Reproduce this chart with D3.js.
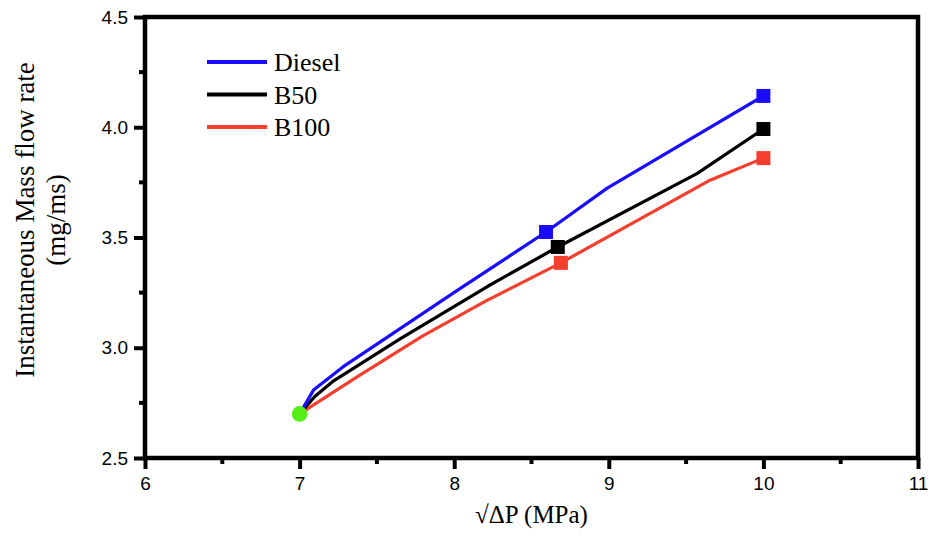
<!DOCTYPE html>
<html>
<head>
<meta charset="utf-8">
<script src="https://cdn.jsdelivr.net/npm/d3@7"></script>
<style>
body { margin: 0; background: #fff; }
svg { display: block; }
</style>
</head>
<body>
<div id="chart"></div>
<script>
// values
var seriesNames = ["Diesel", "B50", "B100"];
var seriesColors = ["#1a0dff", "#000000", "#f43e2e"];

var dieselX = [7, 7.09, 7.28, 8.02, 8.594, 8.99, 10];
var dieselY = [2.70, 2.808, 2.913, 3.26, 3.525, 3.724, 4.142];

var b50X = [7, 7.1, 7.22, 7.65, 8.22, 8.67, 9.57, 10];
var b50Y = [2.70, 2.78, 2.85, 3.04, 3.28, 3.457, 3.79, 3.992];

var b100X = [7, 7.4, 7.8, 8.2, 8.69, 9.655, 10];
var b100Y = [2.70, 2.88, 3.055, 3.21, 3.385, 3.76, 3.86];

// marked points (squares) per series
var markIndex = [[4, 6], [5, 7], [4, 6]];
var startPoint = [7, 2.70];

var xTicks = [6, 7, 8, 9, 10, 11];
var yTicks = [2.5, 3.0, 3.5, 4.0, 4.5];

var width = 929, height = 537;
var margin = {left: 145, right: 11, top: 17, bottom: 79};

var svg = d3.select("#chart").append("svg")
	.attr("width", width)
	.attr("height", height);

var x = d3.scaleLinear().domain([6, 11]).range([margin.left, width - margin.right]);
var y = d3.scaleLinear().domain([2.5, 4.5]).range([height - margin.bottom, margin.top]);

var series = [
	{xs: dieselX, ys: dieselY},
	{xs: b50X, ys: b50Y},
	{xs: b100X, ys: b100Y}
];

var line = d3.line()
	.x(function(d) { return x(d[0]); })
	.y(function(d) { return y(d[1]); });

// draw series lines (red first so blue sits on top)
for (var s = series.length - 1; s >= 0; s--) {
	var pts = d3.zip(series[s].xs, series[s].ys);
	svg.append("path")
		.datum(pts)
		.attr("d", line)
		.attr("fill", "none")
		.attr("stroke", seriesColors[s])
		.attr("stroke-width", 3.2)
		.attr("stroke-linejoin", "round");
}

// square markers
for (var s = 0; s < series.length; s++) {
	markIndex[s].forEach(function(i) {
		svg.append("rect")
			.attr("x", x(series[s].xs[i]) - 7)
			.attr("y", y(series[s].ys[i]) - 7)
			.attr("width", 14)
			.attr("height", 14)
			.attr("fill", seriesColors[s]);
	});
}

// green start point
svg.append("circle")
	.attr("cx", x(startPoint[0]))
	.attr("cy", y(startPoint[1]))
	.attr("r", 7.8)
	.attr("fill", "#55ee16");

// axes
var xAxis = d3.axisBottom(x).tickValues(xTicks).tickFormat(d3.format("d")).tickSize(11).tickPadding(8);
var yAxis = d3.axisLeft(y).tickValues(yTicks).tickFormat(d3.format(".1f")).tickSize(11).tickPadding(6);

var gx = svg.append("g").attr("transform", "translate(0," + y(2.5) + ")").call(xAxis);
var gy = svg.append("g").attr("transform", "translate(" + x(6) + ",0)").call(yAxis);

// minor ticks
var xMinor = d3.range(6.5, 11, 1);
var yMinor = d3.range(2.75, 4.5, 0.5);
gx.selectAll(".minor").data(xMinor).enter().append("line")
	.attr("x1", function(d) { return x(d); }).attr("x2", function(d) { return x(d); })
	.attr("y1", 0).attr("y2", 6);
gy.selectAll(".minor").data(yMinor).enter().append("line")
	.attr("y1", function(d) { return y(d); }).attr("y2", function(d) { return y(d); })
	.attr("x1", 0).attr("x2", -6);

[gx, gy].forEach(function(g) {
	g.select(".domain").remove();
	g.selectAll("line").attr("stroke", "#000").attr("stroke-width", 4);
	g.selectAll("text")
		.attr("fill", "#000")
		.attr("font-family", "'Liberation Sans', Arial, sans-serif")
		.attr("font-size", 19);
});

// frame
svg.append("rect")
	.attr("x", x(6))
	.attr("y", y(4.5))
	.attr("width", x(11) - x(6))
	.attr("height", y(2.5) - y(4.5))
	.attr("fill", "none")
	.attr("stroke", "#000")
	.attr("stroke-width", 4.5);

var serif = "'Liberation Serif', 'Times New Roman', serif";

// axis titles
svg.append("text")
	.attr("x", (x(6) + x(11)) / 2)
	.attr("y", 523)
	.attr("text-anchor", "middle")
	.style("font-family", serif)
	.style("font-size", "25px")
	.text("\u221a\u0394P (MPa)");

var yt = svg.append("text")
	.attr("transform", "translate(34,220) rotate(-90)")
	.attr("text-anchor", "middle")
	.style("font-family", serif)
	.style("font-size", "27px");
yt.append("tspan").attr("x", 0).attr("y", 0).text("Instantaneous Mass flow rate");
yt.append("tspan").attr("x", 0).attr("y", 31).text("(mg/ms)");

// legend
var legend = svg.append("g");
seriesNames.forEach(function(name, i) {
	var ly = 62 + i * 32.5;
	legend.append("line")
		.attr("x1", 207).attr("x2", 267)
		.attr("y1", ly).attr("y2", ly)
		.attr("stroke", seriesColors[i])
		.attr("stroke-width", 4);
	legend.append("text")
		.attr("x", 274)
		.attr("y", ly + 9)
		.style("font-family", serif)
		.style("font-size", "26px")
		.text(name);
});
</script>
</body>
</html>
